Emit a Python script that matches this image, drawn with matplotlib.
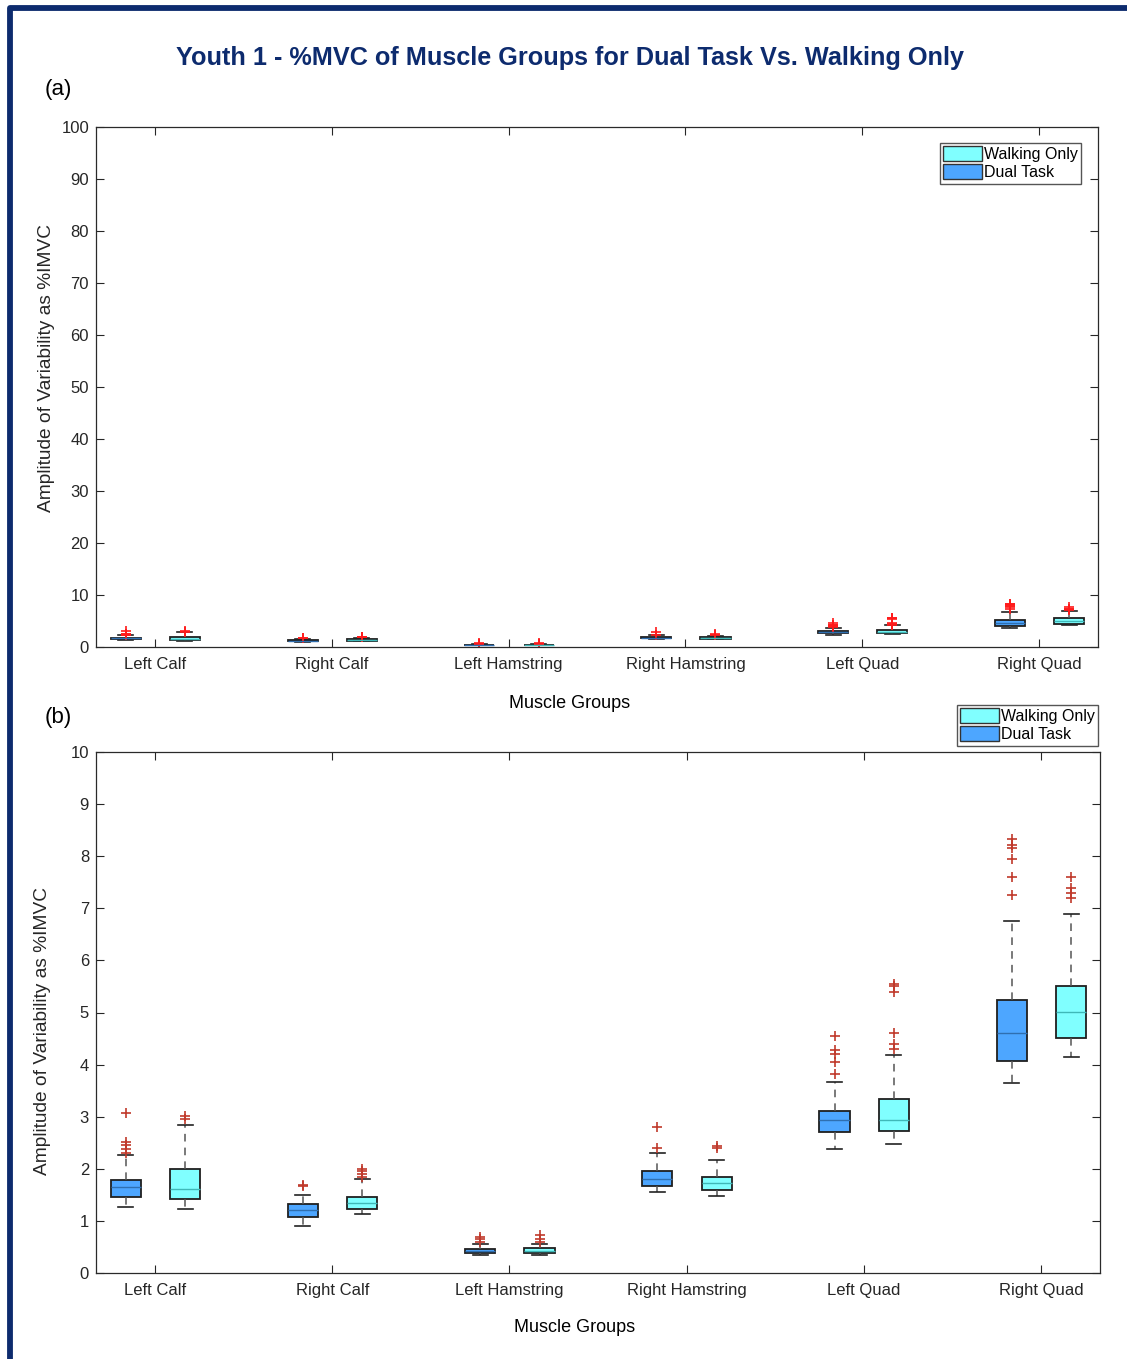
#!/usr/bin/env python

# Boxplots of %MVC variability per muscle group, dual task vs walking only

import matplotlib
matplotlib.use('Agg')
import matplotlib.pyplot as plt
from matplotlib.patches import Patch, Rectangle

groups = ['Left Calf', 'Right Calf', 'Left Hamstring', 'Right Hamstring', 'Left Quad', 'Right Quad']

# Dual task box statistics
dual_whislo = [1.27, 0.90, 0.35, 1.55, 2.38, 3.65]
dual_q1 = [1.46, 1.08, 0.38, 1.67, 2.71, 4.07]
dual_med = [1.65, 1.21, 0.42, 1.80, 2.94, 4.60]
dual_q3 = [1.78, 1.32, 0.47, 1.96, 3.11, 5.24]
dual_whishi = [2.26, 1.50, 0.55, 2.30, 3.67, 6.76]
dual_fliers = [
    [2.30, 2.38, 2.45, 2.51, 3.07],
    [1.67, 1.69],
    [0.60, 0.65, 0.70],
    [2.40, 2.80],
    [3.82, 4.05, 4.20, 4.28, 4.55],
    [7.26, 7.60, 7.95, 8.16, 8.22, 8.33],
]

# Walking only box statistics
walk_whislo = [1.23, 1.13, 0.35, 1.48, 2.48, 4.15]
walk_q1 = [1.42, 1.23, 0.38, 1.59, 2.73, 4.51]
walk_med = [1.61, 1.35, 0.43, 1.72, 2.94, 5.01]
walk_q3 = [2.00, 1.46, 0.48, 1.84, 3.34, 5.51]
walk_whishi = [2.84, 1.80, 0.55, 2.17, 4.18, 6.89]
walk_fliers = [
    [2.95, 3.02],
    [1.85, 1.90, 1.95, 2.00],
    [0.60, 0.66, 0.72],
    [2.40, 2.43],
    [4.30, 4.40, 4.60, 5.40, 5.50, 5.55],
    [7.20, 7.29, 7.39, 7.60],
]

DUAL_COLOR = '#4da6ff'
WALK_COLOR = '#80ffff'
NAVY = '#0d2b6e'
TEXT = '#262626'
W, H = 1127, 1359


def make_stats(lo, q1, med, q3, hi, fliers):
    stats = []
    for i in range(len(med)):
        stats.append({'whislo': lo[i], 'q1': q1[i], 'med': med[i],
                      'q3': q3[i], 'whishi': hi[i], 'fliers': fliers[i]})
    return stats


def draw_boxes(ax, stats, positions, face, med_color, flier_color):
    ax.bxp(stats, positions=positions, widths=0.17, patch_artist=True,
           showfliers=True, manage_ticks=False,
           boxprops=dict(facecolor=face, edgecolor='#1f1f1f', linewidth=1.3),
           medianprops=dict(color=med_color, linewidth=1.0),
           whiskerprops=dict(color='#555555', linewidth=1.1, linestyle=(0, (5, 4))),
           capprops=dict(color='#222222', linewidth=1.2),
           flierprops=dict(marker='+', markeredgecolor=flier_color,
                           markersize=7, markeredgewidth=1.2, linestyle='none'))


def style_axes(ax, ymax, step, xlab_xy, ylab_xy):
    x = list(range(1, len(groups) + 1))
    ax.set_xlim(0.667, 6.333)
    ax.set_ylim(0, ymax)
    ax.set_yticks([i * step for i in range(int(round(ymax / step)) + 1)])
    ax.set_xticks(x)
    ax.set_xticklabels(groups)
    ax.tick_params(direction='in', length=6, width=0.8, colors=TEXT,
                   labelsize=12, top=True, right=True)
    ax.tick_params(axis='x', pad=7.5)
    ax.tick_params(axis='y', pad=5)
    for s in ax.spines.values():
        s.set_color('#2a2a2a')
        s.set_linewidth(0.9)
    ax.set_xlabel('Muscle Groups', fontsize=13, color='black')
    ax.set_ylabel('Amplitude of Variability as %IMVC', fontsize=13.8, color=TEXT)
    # label centres given in figure pixels
    ax.xaxis.set_label_coords(xlab_xy[0] / W, 1 - xlab_xy[1] / H, transform=ax.figure.transFigure)
    ax.yaxis.set_label_coords(ylab_xy[0] / W, 1 - ylab_xy[1] / H, transform=ax.figure.transFigure)
    ax.xaxis.label.set_va('center')
    ax.yaxis.label.set_va('center')


def add_legend(ax, handles, labels, corner):
    ax.legend(handles, labels, loc='upper right', fontsize=11.5,
              bbox_to_anchor=(corner[0] / W, 1 - corner[1] / H), bbox_transform=ax.figure.transFigure,
              fancybox=False, framealpha=1, edgecolor='#555555', borderpad=0.2,
              labelspacing=0.15, handlelength=2.4, handleheight=1.05, handletextpad=0.15,
              borderaxespad=0)


plt.rcParams['font.family'] = ['Liberation Sans', 'DejaVu Sans']

fig = plt.figure(figsize=(W / 100, H / 100), dpi=100)

pos_dual = [i + 1 - 0.165 for i in range(len(groups))]
pos_walk = [i + 1 + 0.17 for i in range(len(groups))]
dual_stats = make_stats(dual_whislo, dual_q1, dual_med, dual_q3, dual_whishi, dual_fliers)
walk_stats = make_stats(walk_whislo, walk_q1, walk_med, walk_q3, walk_whishi, walk_fliers)

handles = [Patch(facecolor=WALK_COLOR, edgecolor='#333333', linewidth=1.0),
           Patch(facecolor=DUAL_COLOR, edgecolor='#333333', linewidth=1.0)]
labels = ['Walking Only', 'Dual Task']

# panel (a): full 0-100 scale
ax1 = fig.add_axes([96 / W, 1 - 647 / H, 1002 / W, 520 / H])
draw_boxes(ax1, dual_stats, pos_dual, DUAL_COLOR, '#2f6fb0', '#ff1a1a')
draw_boxes(ax1, walk_stats, pos_walk, WALK_COLOR, '#3fb8b8', '#ff1a1a')
style_axes(ax1, 100, 10, (570, 703), (47, 368))
add_legend(ax1, handles, labels, (1081, 143))

# panel (b): zoomed 0-10 scale
ax2 = fig.add_axes([96 / W, 1 - 1273 / H, 1004 / W, 521 / H])
draw_boxes(ax2, dual_stats, pos_dual, DUAL_COLOR, '#2f6fb0', '#c0392b')
draw_boxes(ax2, walk_stats, pos_walk, WALK_COLOR, '#3fb8b8', '#c0392b')
style_axes(ax2, 10, 1, (575, 1328), (43, 1031))
add_legend(ax2, handles, labels, (1098, 705))

fig.text(570 / W, 1 - 58 / H, 'Youth 1 - %MVC of Muscle Groups for Dual Task Vs. Walking Only',
         ha='center', va='center', fontsize=18.2, fontweight='bold', color=NAVY)
fig.text(45 / W, 1 - 89 / H, '(a)', ha='left', va='center', fontsize=16, color='black')
fig.text(45 / W, 1 - 718 / H, '(b)', ha='left', va='center', fontsize=16, color='black')

# navy frame around the page
fig.patches.append(Rectangle((9.5 / W, -0.1), 1.2, 1.1 - 8 / H, fill=False,
                             edgecolor=NAVY, linewidth=4.2, joinstyle='round',
                             transform=fig.transFigure, figure=fig))

fig.savefig('out.png', dpi=100)
